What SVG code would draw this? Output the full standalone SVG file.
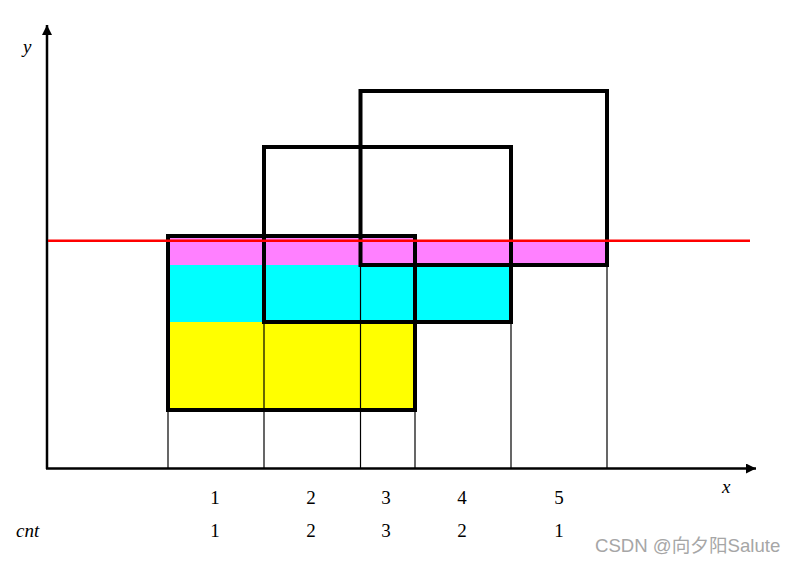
<svg xmlns="http://www.w3.org/2000/svg" width="796" height="564" viewBox="0 0 796 564">
<style>
.box{fill:none;stroke:#000;stroke-width:4}
.thin{stroke:#000;stroke-width:1.2}
.axis{stroke:#000;stroke-width:2.5}
.lbl{font-family:"Liberation Serif","Times New Roman",serif;font-size:19px;fill:#000}
.it{font-style:italic}
.num{text-anchor:middle}
.wm{font-family:"Liberation Sans","Noto Sans CJK SC",sans-serif;font-size:18.6px;fill:#a6a6a6}
</style>
<defs>
<marker id="ah" viewBox="0 0 10 10" refX="10" refY="5" markerWidth="10" markerHeight="10" markerUnits="userSpaceOnUse" orient="auto">
<path d="M0,0 L10,5 L0,10 z" fill="#000"/>
</marker>
</defs>
<rect width="796" height="564" fill="#fff"/>
<g id="fills">
<rect x="168" y="237" width="247" height="28" fill="#ff80ff"/>
<rect x="415" y="240.5" width="192" height="24.5" fill="#ff80ff"/>
<rect x="168" y="265" width="343" height="57" fill="#00ffff"/>
<rect x="168" y="322" width="247" height="88" fill="#ffff00"/>
</g>
<g id="connectors">
<line class="axis" x1="47" y1="469" x2="47" y2="25" marker-end="url(#ah)"/>
<line class="axis" x1="46" y1="468.5" x2="756" y2="468.5" marker-end="url(#ah)"/>
<line class="thin" x1="168" y1="410" x2="168" y2="468"/>
<line class="thin" x1="264" y1="322" x2="264" y2="468"/>
<line class="thin" x1="360.5" y1="265" x2="360.5" y2="468"/>
<line class="thin" x1="415" y1="410" x2="415" y2="468"/>
<line class="thin" x1="511" y1="322" x2="511" y2="468"/>
<line class="thin" x1="607" y1="265" x2="607" y2="468"/>
</g>
<g id="rectA"><rect class="box" x="168" y="236" width="247" height="174"/></g>
<g id="rectB"><rect class="box" x="264" y="147" width="247" height="175"/></g>
<g id="rectC"><rect class="box" x="360.5" y="91" width="246.5" height="174"/></g>
<g id="scanline"><line x1="48" y1="240.7" x2="750" y2="240.7" stroke="#ff0000" stroke-width="2.5"/></g>
<g id="labels">
<text class="lbl it" x="23" y="53">y</text>
<text class="lbl it" x="722" y="493">x</text>
<text class="lbl it" x="16" y="537">cnt</text>
<text class="lbl num" x="215" y="504">1</text>
<text class="lbl num" x="311" y="504">2</text>
<text class="lbl num" x="386" y="504">3</text>
<text class="lbl num" x="462" y="504">4</text>
<text class="lbl num" x="559" y="504">5</text>
<text class="lbl num" x="215" y="537">1</text>
<text class="lbl num" x="311" y="537">2</text>
<text class="lbl num" x="386" y="537">3</text>
<text class="lbl num" x="462" y="537">2</text>
<text class="lbl num" x="559" y="537">1</text>
<text class="wm" x="595" y="552">CSDN @向夕阳Salute</text>
</g>
</svg>
